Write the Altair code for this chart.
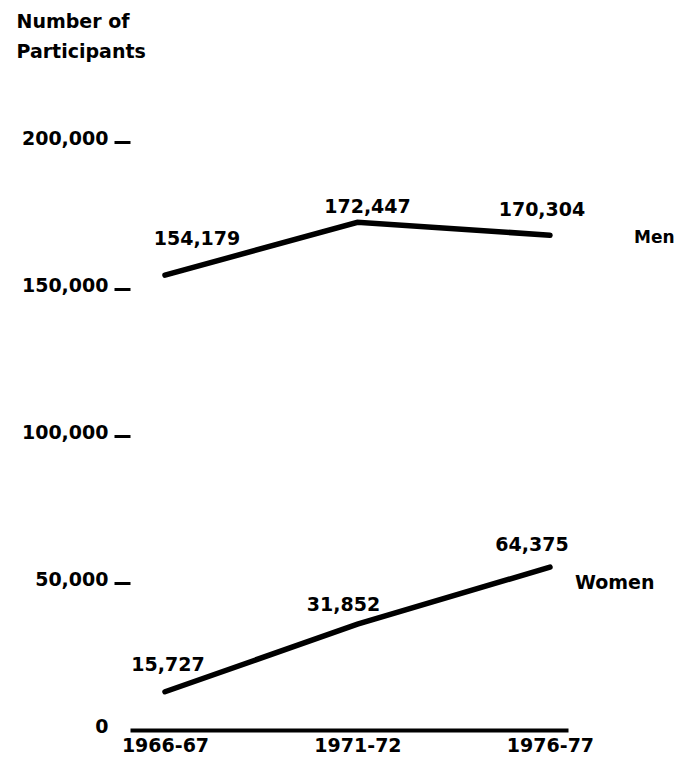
import altair as alt
import pandas as pd

years = ["1966-67", "1971-72", "1976-77"]
men = [154700, 172700, 168300]
women = [13000, 36000, 55400]
men_labels = ["154,179", "172,447", "170,304"]
women_labels = ["15,727", "31,852", "64,375"]
y_ticks = [0, 50000, 100000, 150000, 200000]
series_names = ["Men", "Women"]

rows = []
for i, yr in enumerate(years):
    rows.append({"year": yr, "series": "Men", "value": men[i], "label": men_labels[i], "idx": i})
    rows.append({"year": yr, "series": "Women", "value": women[i], "label": women_labels[i], "idx": i})
df = pd.DataFrame(rows)

FONT = "DejaVu Sans"
FS = 19

x_enc = alt.X(
    "year:O",
    scale=alt.Scale(type="point", padding=0.1377, align=0.66, domain=years),
    axis=alt.Axis(
        title=None, labelAngle=0, ticks=False, domain=True, domainWidth=4,
        domainColor="black", labelFont=FONT, labelFontSize=FS, labelFontWeight="bold",
        labelColor="black", labelPadding=6, grid=False,
    ),
)
y_enc = alt.Y(
    "value:Q",
    scale=alt.Scale(domain=[0, 200000], nice=False, zero=True),
    axis=alt.Axis(
        values=y_ticks, format=",d", domain=False, grid=False,
        tickSize=16, tickWidth=3, tickColor="black",
        tickOpacity={"condition": {"test": "datum.value == 0", "value": 0}, "value": 1},
        labelPadding=6, labelOffset=-4, labelFont=FONT, labelFontSize=FS,
        labelFontWeight="bold", labelColor="black",
        title=["Number of", "Participants"], titleAngle=0, titleAlign="left",
        titleBaseline="alphabetic", titleX=-114, titleY=-115, titleFont=FONT,
        titleFontSize=FS, titleFontWeight="bold", titleColor="black", titleLineHeight=30,
    ),
)

base = alt.Chart(df)
lines = base.mark_line(color="black", strokeWidth=5.5, strokeCap="round").encode(
    x=x_enc, y=y_enc, detail="series:N"
)

offsets = {
    "Men": [(32, -36), (10, -15), (-8, -25)],
    "Women": [(3, -27), (-14, -19), (-18, -22)],
}
layers = [lines]
for s in series_names:
    for i in range(len(years)):
        dx, dy = offsets[s][i]
        layers.append(
            base.transform_filter(
                (alt.datum.series == s) & (alt.datum.idx == i)
            ).mark_text(
                dx=dx, dy=dy, font=FONT, fontSize=FS, fontWeight="bold",
                color="black", align="center", baseline="middle",
            ).encode(x=x_enc, y=y_enc, text="label:N")
        )

name_offsets = {"Men": (84, 3, 17), "Women": (25, 16, FS)}
for s in series_names:
    dx, dy, fs = name_offsets[s]
    layers.append(
        base.transform_filter(
            (alt.datum.series == s) & (alt.datum.idx == len(years) - 1)
        ).mark_text(
            dx=dx, dy=dy, font=FONT, fontSize=fs, fontWeight="bold",
            color="black", align="left", baseline="middle",
        ).encode(x=x_enc, y=y_enc, text="series:N")
    )

chart = (
    alt.layer(*layers)
    .properties(
        width=438, height=588,
        autosize=alt.AutoSizeParams(type="none"),
        padding={"left": 122, "top": 134, "right": 108, "bottom": 27},
    )
    .configure(background="white")
    .configure_view(strokeWidth=0, stroke="transparent")
)

chart.save("out.html", embed_options={"renderer": "svg", "actions": False})
